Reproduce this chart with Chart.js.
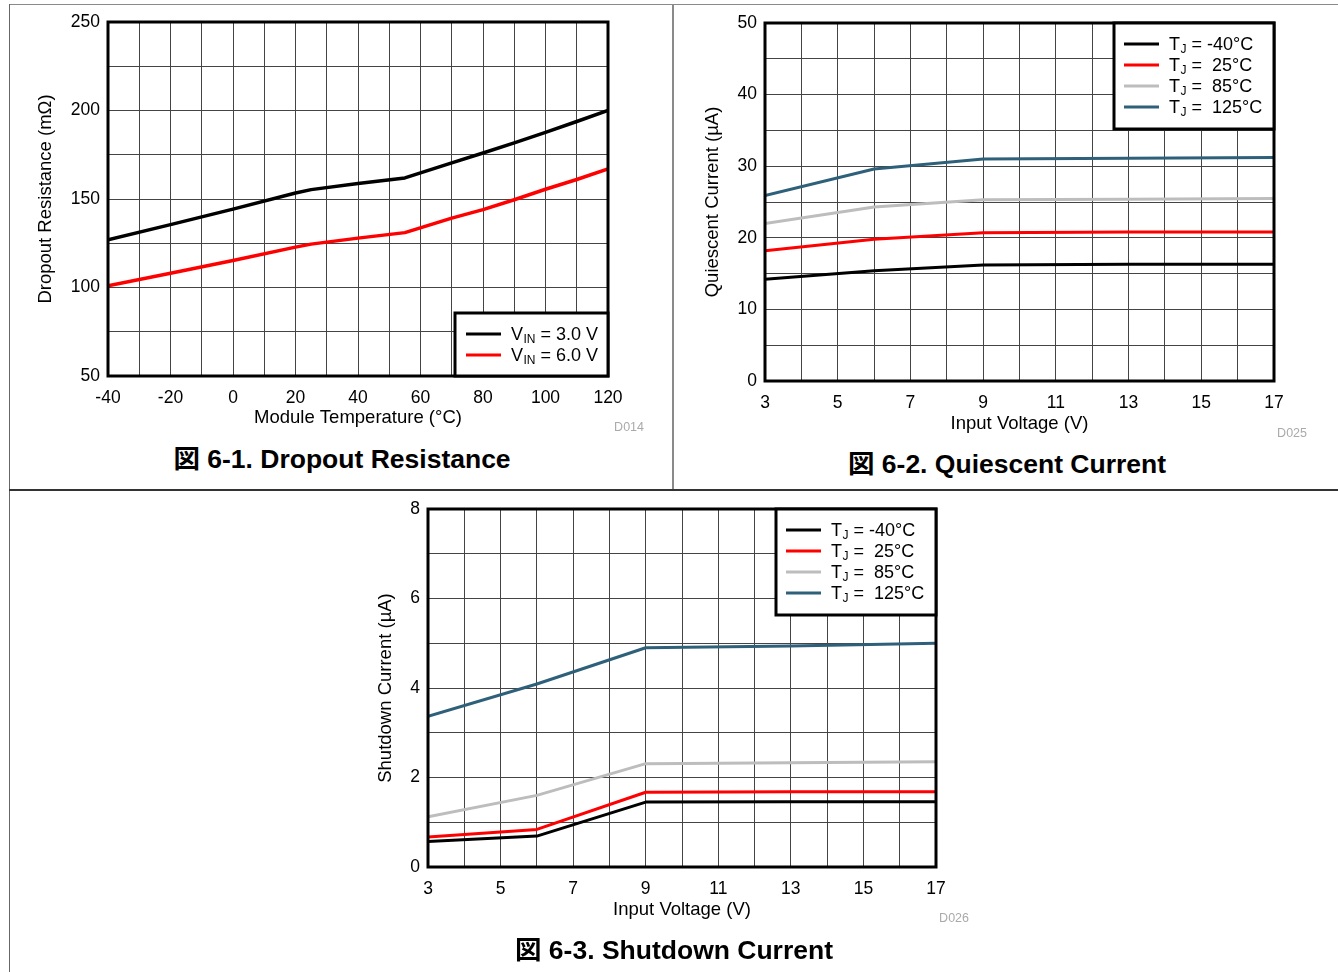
<!DOCTYPE html>
<html>
<head>
<meta charset="utf-8">
<script src="https://cdn.jsdelivr.net/npm/chart.js@4.4.1/dist/chart.umd.min.js"></script>
<style>
  html, body { margin: 0; padding: 0; background: #fff; }
  #page {
    position: relative; width: 1338px; height: 972px; overflow: hidden; background: #fff;
    font-family: "Liberation Sans", Arial, "Noto Sans CJK JP", sans-serif;
  }
  .rule { position: absolute; }
  canvas { position: absolute; }
  .cap {
    position: absolute; font-weight: bold; font-size: 26.5px; white-space: nowrap;
    line-height: 1; transform: translate(-50%, -50%); color: #000;
  }
  .code {
    position: absolute; font-size: 12.5px; color: #aaa; white-space: nowrap;
    line-height: 1; transform: translate(-100%, -50%);
  }
</style>
</head>
<body>
<div id="page">
  <!-- page rules framing the three figures -->
  <div class="rule" style="left:9px; top:4px; width:1329px; height:1px; background:#8a8a8a"></div>
  <div class="rule" style="left:9px; top:4px; width:1px; height:968px; background:#666"></div>
  <div class="rule" style="left:672px; top:4px; width:2px; height:486px; background:#8a8a8a"></div>
  <div class="rule" style="left:9px; top:489px; width:1329px; height:2px; background:#333"></div>

  <canvas id="dropout" width="640" height="440" style="left:20px; top:0px"></canvas>
  <canvas id="quiescent" width="658" height="440" style="left:680px; top:0px"></canvas>
  <canvas id="shutdown" width="660" height="440" style="left:340px; top:495px"></canvas>

  <div class="code" style="left:644px; top:427px">D014</div>
  <div class="code" style="left:1307px; top:433px">D025</div>
  <div class="code" style="left:969px; top:918px">D026</div>

  <div class="cap" style="left:342px; top:459px">図 6-1. Dropout Resistance</div>
  <div class="cap" style="left:1007px; top:464px">図 6-2. Quiescent Current</div>
  <div class="cap" style="left:674px; top:950px">図 6-3. Shutdown Current</div>
</div>

<script>
// ---- Figure 6-1: dropout resistance vs module temperature ----
const tempC = [-40, -20, 0, 20, 25, 40, 55, 70, 80, 90, 100, 110, 120];
const rdoVin3 = [127, 135.5, 144.3, 153.4, 155.3, 158.7, 161.9, 170.4, 176, 181.7, 187.6, 193.8, 200];
const rdoVin6 = [101, 108.1, 115.3, 122.8, 124.5, 127.9, 131, 139.2, 144, 149.6, 155.5, 161, 167];
const vinNames = ['3.0 V', '6.0 V'];

// ---- Figures 6-2 / 6-3: currents vs input voltage ----
const inputV = [3, 6, 9, 13, 17];
const tjNames = ['-40°C', ' 25°C', ' 85°C', ' 125°C'];
const iqM40 = [14.2, 15.4, 16.2, 16.3, 16.3];
const iq25 = [18.2, 19.8, 20.7, 20.8, 20.8];
const iq85 = [22.0, 24.3, 25.3, 25.4, 25.5];
const iq125 = [25.9, 29.6, 31.0, 31.1, 31.2];
const isdM40 = [0.57, 0.69, 1.45, 1.46, 1.46];
const isd25 = [0.67, 0.84, 1.67, 1.68, 1.68];
const isd85 = [1.12, 1.60, 2.31, 2.33, 2.35];
const isd125 = [3.37, 4.09, 4.90, 4.94, 5.00];

const tjColors = ['#000000', '#ff0000', '#bdbdbd', '#2f607a'];

const FONT = '"Liberation Sans", Arial, sans-serif';
Chart.defaults.font.family = FONT;
Chart.defaults.font.size = 17.5;
Chart.defaults.color = '#000';

// Heavy plot frame plus an in-plot key with subscripted labels
const frameKey = {
  id: 'frameKey',
  afterDraw(chart, args, k) {
    const { ctx, chartArea: a } = chart;
    ctx.save();
    ctx.lineWidth = 3;
    ctx.strokeStyle = '#000';
    ctx.strokeRect(a.left, a.top, a.right - a.left, a.bottom - a.top);

    const x0 = a.right - k.width;
    const y0 = k.atTop ? a.top : a.bottom - k.height;
    ctx.fillStyle = '#fff';
    ctx.fillRect(x0, y0, k.width, k.height);
    ctx.strokeRect(x0, y0, k.width, k.height);

    chart.data.datasets.forEach((ds, i) => {
      const y = y0 + k.firstRow + i * k.rowGap;
      ctx.strokeStyle = ds.borderColor;
      ctx.lineWidth = 3;
      ctx.beginPath();
      ctx.moveTo(x0 + k.lineFrom, y);
      ctx.lineTo(x0 + k.lineTo, y);
      ctx.stroke();

      const [main, sub, rest] = ds.keyParts;
      const base = y + 6.4;
      let tx = x0 + k.textX;
      ctx.fillStyle = '#000';
      ctx.textBaseline = 'alphabetic';
      ctx.textAlign = 'left';
      ctx.font = '18px ' + FONT;
      ctx.fillText(main, tx, base);
      tx += ctx.measureText(main).width;
      ctx.font = '12px ' + FONT;
      ctx.fillText(sub, tx + 0.5, base + 3);
      tx += ctx.measureText(sub).width + 0.5;
      ctx.font = '18px ' + FONT;
      ctx.fillText(rest, tx, base);
    });
    ctx.restore();
  }
};

function points(xs, ys) {
  return xs.map((x, i) => ({ x, y: ys[i] }));
}

function axis(min, max, step, labelEvery, offset) {
  return {
    type: 'linear',
    min, max,
    ticks: {
      stepSize: step,
      autoSkip: false,
      maxRotation: 0,
      callback: v => (Math.abs((v - offset) / labelEvery - Math.round((v - offset) / labelEvery)) < 1e-6 ? String(v) : '')
    },
    grid: { color: '#444', lineWidth: 1, drawTicks: false },
    border: { display: false }
  };
}

function build(id, datasets, s) {
  const x = axis(s.x[0], s.x[1], s.x[2], s.x[3], s.x[4]);
  x.ticks.padding = 12;
  x.title = { display: true, text: s.xTitle, font: { size: 18.5 }, padding: { top: 0, bottom: s.xTitlePad } };
  x.afterFit = sc => { sc.height = s.xHeight; sc.paddingLeft = 0; sc.paddingRight = 0; };

  const y = axis(s.y[0], s.y[1], s.y[2], s.y[3], s.y[4]);
  y.ticks.padding = 8;
  y.title = { display: true, text: s.yTitle, font: { size: 18.5 }, padding: { top: s.yTitlePad, bottom: 0 } };
  y.afterFit = sc => { sc.width = s.yWidth; sc.paddingTop = 0; sc.paddingBottom = 0; };

  return new Chart(document.getElementById(id), {
    type: 'line',
    data: { datasets },
    options: {
      responsive: false,
      animation: false,
      devicePixelRatio: 1,
      layout: { padding: { top: s.padTop, right: s.padRight, bottom: 0, left: 0 } },
      elements: { point: { radius: 0 }, line: { tension: 0, borderJoinStyle: 'round', borderCapStyle: 'butt' } },
      plugins: { legend: { display: false }, tooltip: { enabled: false }, frameKey: s.key },
      scales: { x, y }
    },
    plugins: [frameKey]
  });
}

function series(xs, ys, color, parts, width) {
  return { data: points(xs, ys), borderColor: color, backgroundColor: color, borderWidth: width, fill: false, keyParts: parts };
}

build('dropout', [
  series(tempC, rdoVin3, '#000000', ['V', 'IN', ' = ' + vinNames[0]], 3.5),
  series(tempC, rdoVin6, '#ff0000', ['V', 'IN', ' = ' + vinNames[1]], 3.5)
], {
  padTop: 22, padRight: 52, xHeight: 64, yWidth: 88,
  x: [-40, 120, 10, 20, 0], y: [50, 250, 25, 50, 0],
  xTitle: 'Module Temperature (°C)', yTitle: 'Dropout Resistance (mΩ)',
  xTitlePad: 10.9, yTitlePad: 15,
  key: { atTop: false, width: 153, height: 63, firstRow: 21, rowGap: 21, lineFrom: 11, lineTo: 46, textX: 56 }
});

const tjKey = { atTop: true, width: 160, height: 106, firstRow: 21, rowGap: 21, lineFrom: 10, lineTo: 45, textX: 55 };

build('quiescent', [
  series(inputV, iqM40, tjColors[0], ['T', 'J', ' = ' + tjNames[0]], 3),
  series(inputV, iq25, tjColors[1], ['T', 'J', ' = ' + tjNames[1]], 3),
  series(inputV, iq85, tjColors[2], ['T', 'J', ' = ' + tjNames[2]], 3),
  series(inputV, iq125, tjColors[3], ['T', 'J', ' = ' + tjNames[3]], 3)
], {
  padTop: 23, padRight: 64, xHeight: 59, yWidth: 85,
  x: [3, 17, 1, 2, 3], y: [0, 50, 5, 10, 0],
  xTitle: 'Input Voltage (V)', yTitle: 'Quiescent Current (µA)',
  xTitlePad: 4.9, yTitlePad: 22,
  key: tjKey
});

build('shutdown', [
  series(inputV, isdM40, tjColors[0], ['T', 'J', ' = ' + tjNames[0]], 3),
  series(inputV, isd25, tjColors[1], ['T', 'J', ' = ' + tjNames[1]], 3),
  series(inputV, isd85, tjColors[2], ['T', 'J', ' = ' + tjNames[2]], 3),
  series(inputV, isd125, tjColors[3], ['T', 'J', ' = ' + tjNames[3]], 3)
], {
  padTop: 14, padRight: 64, xHeight: 68, yWidth: 88,
  x: [3, 17, 1, 2, 3], y: [0, 8, 1, 2, 0],
  xTitle: 'Input Voltage (V)', yTitle: 'Shutdown Current (µA)',
  xTitlePad: 13.9, yTitlePad: 35,
  key: tjKey
});
</script>
</body>
</html>
